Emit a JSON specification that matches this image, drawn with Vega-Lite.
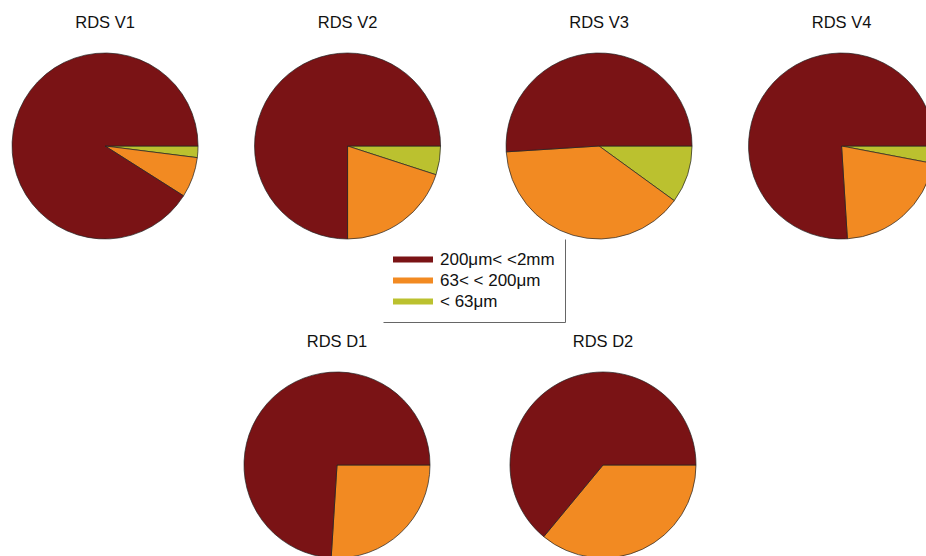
{
  "$schema": "https://vega.github.io/schema/vega-lite/v6.json",
  "padding": {"left": 10, "top": 15, "right": 0, "bottom": 0},
  "background": "white",
  "config": {
    "view": {"stroke": null},
    "font": "Liberation Sans",
    "title": {"font": "Liberation Sans", "fontSize": 16.5, "fontWeight": "normal", "color": "#111111", "offset": 20},
    "legend": {
      "labelFont": "Liberation Sans", "labelFontSize": 17, "labelColor": "#111111",
      "symbolType": "M-1,-0.15H1V0.15H-1Z", "symbolSize": 1600, "symbolStrokeWidth": 0,
      "clipHeight": 21, "rowPadding": 0, "padding": 10, "labelOffset": 7,
      "strokeColor": "#666666", "strokeWidth": 1, "strokeDash": [0, 182, 265, 83]
    }
  },
  "data": {"values": [
    {"sample": "RDS V1", "fraction": "< 63μm", "k": 1, "pct": 2},
    {"sample": "RDS V1", "fraction": "63< < 200μm", "k": 2, "pct": 7},
    {"sample": "RDS V1", "fraction": "200μm< <2mm", "k": 3, "pct": 91},
    {"sample": "RDS V2", "fraction": "< 63μm", "k": 1, "pct": 5},
    {"sample": "RDS V2", "fraction": "63< < 200μm", "k": 2, "pct": 20},
    {"sample": "RDS V2", "fraction": "200μm< <2mm", "k": 3, "pct": 75},
    {"sample": "RDS V3", "fraction": "< 63μm", "k": 1, "pct": 10},
    {"sample": "RDS V3", "fraction": "63< < 200μm", "k": 2, "pct": 39},
    {"sample": "RDS V3", "fraction": "200μm< <2mm", "k": 3, "pct": 51},
    {"sample": "RDS V4", "fraction": "< 63μm", "k": 1, "pct": 3},
    {"sample": "RDS V4", "fraction": "63< < 200μm", "k": 2, "pct": 21},
    {"sample": "RDS V4", "fraction": "200μm< <2mm", "k": 3, "pct": 76},
    {"sample": "RDS D1", "fraction": "63< < 200μm", "k": 2, "pct": 26},
    {"sample": "RDS D1", "fraction": "200μm< <2mm", "k": 3, "pct": 74},
    {"sample": "RDS D2", "fraction": "63< < 200μm", "k": 2, "pct": 36},
    {"sample": "RDS D2", "fraction": "200μm< <2mm", "k": 3, "pct": 64}
  ]},
  "vconcat": [
    {
      "spacing": 62,
      "hconcat": [
        {
          "spacing": 52.5,
          "hconcat": [
            {
              "title": "RDS V1", "width": 186, "height": 186,
              "transform": [{"filter": "datum.sample === 'RDS V1'"}],
              "mark": {"type": "arc", "stroke": "#222222", "strokeWidth": 0.7},
              "encoding": {
                "theta": {"field": "pct", "type": "quantitative", "stack": true, "scale": {"range": [1.5707963, 7.8539816]}},
                "color": {"field": "fraction", "type": "nominal", "scale": {"domain": ["200μm< <2mm", "63< < 200μm", "< 63μm"], "range": ["#7A1315", "#F28A22", "#BBC12F"]}, "legend": {"orient": "none", "legendX": 371, "legendY": 186, "title": null, "encode": {"legend": {"enter": {"strokeDash": {"value": [0, 182, 265, 83]}}, "update": {"strokeDash": {"value": [0, 182, 265, 83]}}}}}},
                "order": {"field": "k", "type": "quantitative", "sort": "ascending"}
              }
            },
            {
              "title": "RDS V2", "width": 186, "height": 186,
              "transform": [{"filter": "datum.sample === 'RDS V2'"}],
              "mark": {"type": "arc", "stroke": "#222222", "strokeWidth": 0.7},
              "encoding": {
                "theta": {"field": "pct", "type": "quantitative", "stack": true, "scale": {"range": [1.5707963, 7.8539816]}},
                "color": {"field": "fraction", "type": "nominal", "legend": null},
                "order": {"field": "k", "type": "quantitative", "sort": "ascending"}
              }
            }
          ]
        },
        {
          "spacing": 52.5,
          "hconcat": [
            {
              "title": "RDS V3", "width": 186, "height": 186,
              "transform": [{"filter": "datum.sample === 'RDS V3'"}],
              "mark": {"type": "arc", "stroke": "#222222", "strokeWidth": 0.7},
              "encoding": {
                "theta": {"field": "pct", "type": "quantitative", "stack": true, "scale": {"range": [1.5707963, 7.8539816]}},
                "color": {"field": "fraction", "type": "nominal", "legend": null},
                "order": {"field": "k", "type": "quantitative", "sort": "ascending"}
              }
            },
            {
              "title": "RDS V4", "width": 186, "height": 186,
              "transform": [{"filter": "datum.sample === 'RDS V4'"}],
              "mark": {"type": "arc", "stroke": "#222222", "strokeWidth": 0.7},
              "encoding": {
                "theta": {"field": "pct", "type": "quantitative", "stack": true, "scale": {"range": [1.5707963, 7.8539816]}},
                "color": {"field": "fraction", "type": "nominal", "legend": null},
                "order": {"field": "k", "type": "quantitative", "sort": "ascending"}
              }
            }
          ]
        }
      ]
    },
    {
      "spacing": 70,
      "hconcat": [
        {
          "title": "RDS D1", "width": 186, "height": 186,
          "transform": [{"filter": "datum.sample === 'RDS D1'"}],
          "mark": {"type": "arc", "stroke": "#222222", "strokeWidth": 0.7},
          "encoding": {
            "theta": {"field": "pct", "type": "quantitative", "stack": true, "scale": {"range": [1.5707963, 7.8539816]}},
            "color": {"field": "fraction", "type": "nominal", "legend": null},
            "order": {"field": "k", "type": "quantitative", "sort": "ascending"}
          }
        },
        {
          "title": "RDS D2", "width": 202, "height": 186,
          "transform": [{"filter": "datum.sample === 'RDS D2'"}],
          "mark": {"type": "arc", "stroke": "#222222", "strokeWidth": 0.7},
          "encoding": {
            "theta": {"field": "pct", "type": "quantitative", "stack": true, "scale": {"range": [1.5707963, 7.8539816]}},
            "color": {"field": "fraction", "type": "nominal", "legend": null},
            "order": {"field": "k", "type": "quantitative", "sort": "ascending"}
          }
        }
      ]
    }
  ],
  "spacing": 93,
  "center": true
}
